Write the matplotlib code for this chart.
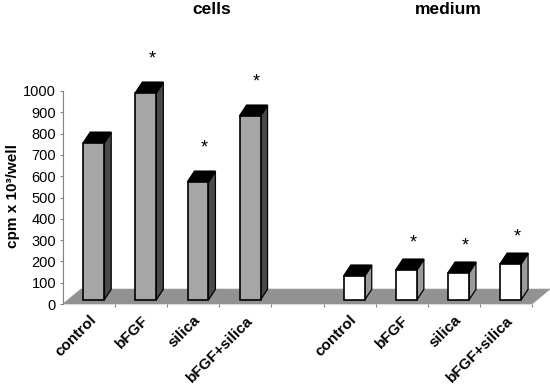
import matplotlib
matplotlib.use("Agg")
import matplotlib.pyplot as plt
from matplotlib.patches import Polygon
import matplotlib.transforms as mtransforms

plt.rcParams['font.family'] = ['Liberation Sans', 'DejaVu Sans']

# ---- data ----
groups = ["cells", "medium"]
categories = ["control", "bFGF", "silica", "bFGF+silica"]
cells_values = [737, 972, 554, 864]
medium_values = [113, 141, 127, 169]
cells_sig = [False, True, True, True]
medium_sig = [False, True, True, True]
y_ticks = list(range(0, 1001, 100))
y_label = "cpm x 10³/well"

# ---- geometry (in data units) ----
n_slots = 9
floor_dx, floor_dy = 0.345, 70      # depth of the floor
base_dx, base_dy = 0.09, 19         # bar front plane offset from floor front
bar_w = 0.40
bar_dx, bar_dy = 0.135, 50          # depth of bars

fig = plt.figure(figsize=(5.5, 3.84), dpi=100)
ax = fig.add_axes([63/550, 80/384, 469/550, 213/384])
ax.set_xlim(0, n_slots)
ax.set_ylim(0, 1000)
for s in ["top", "right", "bottom"]:
    ax.spines[s].set_visible(False)
ax.spines["left"].set_color("#808080")
ax.spines["left"].set_linewidth(0.8)
ax.spines["left"].set_bounds(0, 1000)
ax.set_yticks(y_ticks)
ax.set_yticklabels([str(t) for t in y_ticks])
ax.tick_params(axis="y", direction="out", length=2.5, width=0.8, color="#808080",
               labelsize=10.5, pad=2.5)
ax.patch.set_visible(False)

# floor
floor = Polygon([(0, 0), (n_slots, 0), (n_slots + floor_dx, floor_dy), (floor_dx, floor_dy)],
                closed=True, facecolor="#929292", edgecolor="#929292", lw=0.5,
                clip_on=False, zorder=1)
ax.add_patch(floor)

# x ticks at slot boundaries (no labels), category labels at slot centres
ax.set_xticks(range(1, n_slots + 1))
ax.set_xticklabels([])
ax.tick_params(axis="x", which="major", direction="out", length=2.5, width=0.8,
               color="#808080")
centers = [i + 0.5 for i in range(4)] + [i + 0.5 for i in range(5, 9)]
ax.set_xticks(centers, minor=True)
ax.set_xticklabels(categories + categories, minor=True, rotation=45, ha="right",
                   rotation_mode="anchor", fontweight="bold", fontsize=11)
ax.tick_params(axis="x", which="minor", length=0, pad=6.5)


def draw_bar(xc, v, front, side, zorder):
    x0 = xc - bar_w / 2 + base_dx
    x1 = xc + bar_w / 2 + base_dx
    y0 = base_dy
    y1 = base_dy + v
    side_poly = Polygon([(x1, y0), (x1 + bar_dx, y0 + bar_dy), (x1 + bar_dx, y1 + bar_dy), (x1, y1)],
                        closed=True, facecolor=side, edgecolor="black", lw=0.9,
                        clip_on=False, zorder=zorder)
    top_poly = Polygon([(x0, y1), (x1, y1), (x1 + bar_dx, y1 + bar_dy), (x0 + bar_dx, y1 + bar_dy)],
                       closed=True, facecolor="black", edgecolor="black", lw=1.2,
                       clip_on=False, zorder=zorder)
    front_poly = Polygon([(x0, y0), (x1, y0), (x1, y1), (x0, y1)],
                         closed=True, facecolor=front, edgecolor="black", lw=1.2,
                         clip_on=False, zorder=zorder + 0.1)
    for p in (side_poly, top_poly, front_poly):
        ax.add_patch(p)


def add_star(xc, v, dy_px):
    off = mtransforms.offset_copy(ax.transData, fig=fig, x=3 * 0.72, y=dy_px * 0.72, units="points")
    ax.text(xc + base_dx + bar_dx / 2, base_dy + v, "*", transform=off, ha="center",
            va="baseline", fontsize=13, clip_on=False, zorder=5)


for i, v in enumerate(cells_values):
    xc = i + 0.5
    draw_bar(xc, v, "#a6a6a6", "#4a4a4a", 2 + i)
    if cells_sig[i]:
        add_star(xc, v, 29)

for i, v in enumerate(medium_values):
    xc = i + 5.5
    draw_bar(xc, v, "white", "#9a9a9a", 2 + i)
    if medium_sig[i]:
        add_star(xc, v, 22)

# group titles
fig.text(212/550, 1 - 9/384, groups[0], ha="center", va="center", fontsize=12.5, fontweight="bold")
fig.text(448/550, 1 - 9/384, groups[1], ha="center", va="center", fontsize=12.5, fontweight="bold")

# y label
fig.text(13/550, 1 - 196/384, y_label, rotation=90, ha="center", va="center",
         fontsize=11, fontweight="bold")

fig.savefig("out.png", dpi=100)
